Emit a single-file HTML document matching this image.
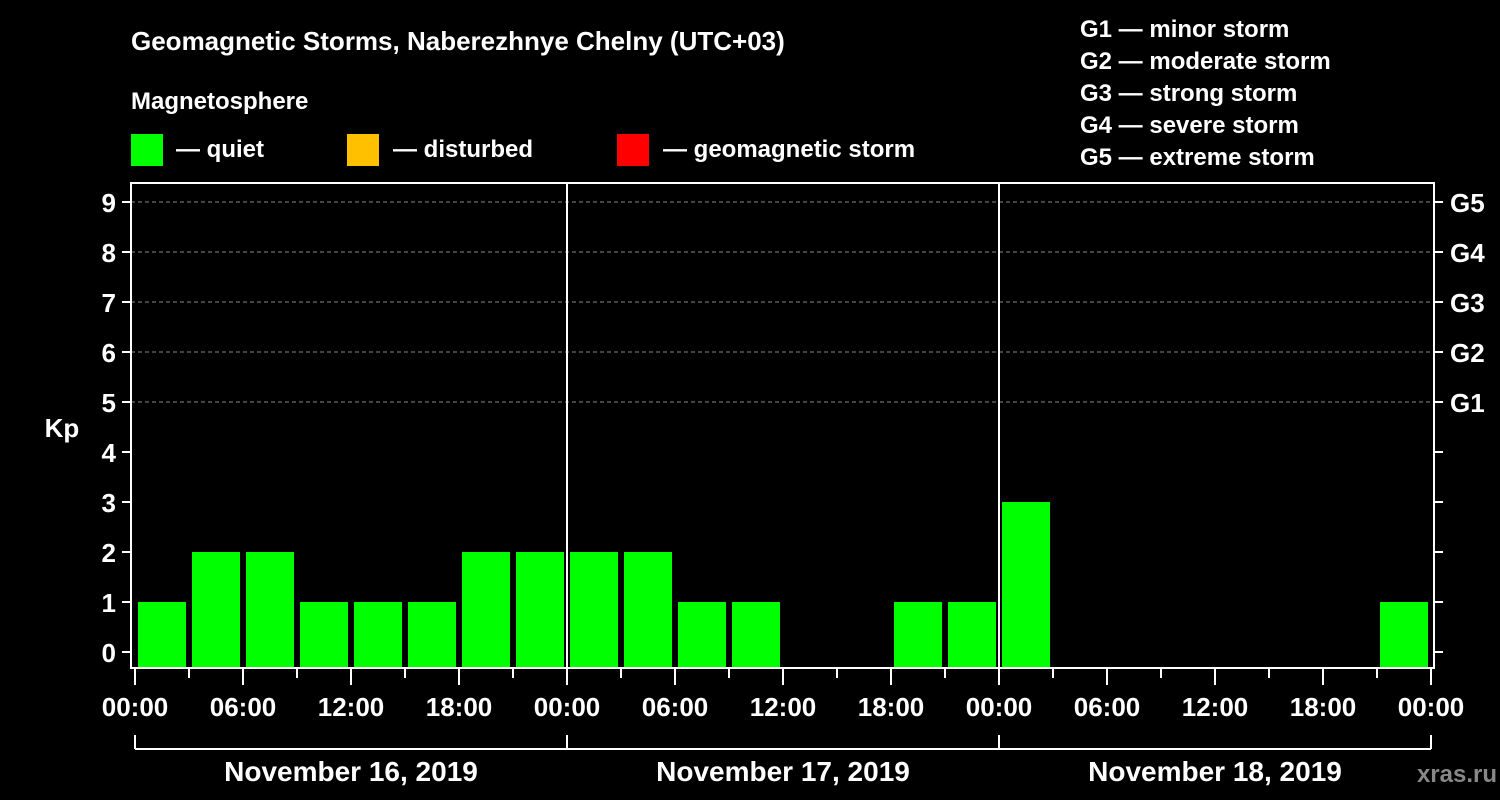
<!DOCTYPE html>
<html><head><meta charset="utf-8"><style>
body{margin:0;background:#000;}
svg{display:block;font-family:"Liberation Sans",Arial,sans-serif;font-weight:bold;}
</style></head><body>
<svg id="chart" width="1500" height="800" viewBox="0 0 1500 800">
<rect width="1500" height="800" fill="#000"/>
<text x="131" y="50" fill="#fff" font-size="26">Geomagnetic Storms, Naberezhnye Chelny (UTC+03)</text>
<text x="131" y="109" fill="#fff" font-size="24">Magnetosphere</text>
<g><rect x="131" y="134" width="32" height="32" fill="#00ff00"/><text x="176" y="157" fill="#fff" font-size="24">— quiet</text></g>
<g><rect x="347" y="134" width="32" height="32" fill="#ffc000"/><text x="393" y="157" fill="#fff" font-size="24">— disturbed</text></g>
<g><rect x="617" y="134" width="32" height="32" fill="#ff0000"/><text x="663" y="157" fill="#fff" font-size="24">— geomagnetic storm</text></g>
<g fill="#fff" font-size="24">
<text x="1080" y="37">G1 — minor storm</text>
<text x="1080" y="69">G2 — moderate storm</text>
<text x="1080" y="101">G3 — strong storm</text>
<text x="1080" y="133">G4 — severe storm</text>
<text x="1080" y="165">G5 — extreme storm</text>
</g>
<text x="62" y="437" fill="#fff" font-size="26" text-anchor="middle">Kp</text>
<text x="1497" y="782" fill="#888" font-size="24" text-anchor="end">xras.ru</text>
<g id="grid"></g><g id="bars"></g><g id="axes"></g>
</svg>
<script>
const days = ["November 16, 2019","November 17, 2019","November 18, 2019"];
const kpValues = [1,2,2,1,1,1,2,2, 2,2,1,1,null,null,1,1, 3,null,null,null,null,null,null,1];
const yTicks = [0,1,2,3,4,5,6,7,8,9];
const gLabels = ["G1","G2","G3","G4","G5"];
const xLabels = ["00:00","06:00","12:00","18:00"];
const NS="http://www.w3.org/2000/svg";
const x0=135, slotW=54, plotL=131, plotR=1434, plotT=183, plotB=668;
const xs=i=>x0+i*slotW;
const ys=v=>652-50*v;
function mk(tag,attrs,parent,txt){const e=document.createElementNS(NS,tag);for(const k in attrs)e.setAttribute(k,attrs[k]);if(txt!==undefined)e.textContent=txt;parent.appendChild(e);return e;}
const grid=document.getElementById('grid'),bars=document.getElementById('bars'),axes=document.getElementById('axes');
for(let g=5;g<=9;g++){const l=mk('line',{x1:plotL,x2:plotR,y1:ys(g),y2:ys(g),stroke:'#888','stroke-dasharray':'4,3','stroke-width':1},grid);

}
kpValues.forEach((v,i)=>{if(v===null)return;
const c=v>=5?'#ff0000':(v>=4?'#ffc000':'#00ff00');
const r=mk('rect',{x:xs(i)+3,y:ys(v),width:48,height:plotB-ys(v),fill:c},bars);

});
// day separators
for(let d=1;d<days.length;d++){const l=mk('line',{x1:xs(d*8),x2:xs(d*8),y1:plotT,y2:plotB,stroke:'#fff','stroke-width':2},axes);

}
const frame=mk('rect',{x:plotL,y:plotT,width:plotR-plotL,height:plotB-plotT,fill:'none',stroke:'#fff','stroke-width':2},axes);


yTicks.forEach(t=>{mk('line',{x1:122,x2:plotL,y1:ys(t),y2:ys(t),stroke:'#fff','stroke-width':2},axes);
mk('line',{x1:plotR,x2:1443,y1:ys(t),y2:ys(t),stroke:'#fff','stroke-width':2},axes);
const tx=mk('text',{x:116,y:ys(t)+10,fill:'#fff','font-size':26,'text-anchor':'end'},axes,String(t));

});
gLabels.forEach((g,i)=>{const tx=mk('text',{x:1450,y:ys(5+i)+10,fill:'#fff','font-size':26},axes,g);

});
for(let i=0;i<=kpValues.length;i++){const major=i%2===0;
mk('line',{x1:xs(i),x2:xs(i),y1:plotB,y2:major?685:678,stroke:'#fff','stroke-width':2},axes);
if(major){const tx=mk('text',{x:xs(i),y:716,fill:'#fff','font-size':26,'text-anchor':'middle'},axes,xLabels[(i/2)%4]);

}}
mk('line',{x1:xs(0),x2:xs(24),y1:749,y2:749,stroke:'#fff','stroke-width':2},axes);
for(let d=0;d<=days.length;d++)mk('line',{x1:xs(d*8),x2:xs(d*8),y1:735,y2:749,stroke:'#fff','stroke-width':2},axes);
days.forEach((d,i)=>{const tx=mk('text',{x:xs(i*8+4),y:781,fill:'#fff','font-size':28,'text-anchor':'middle'},axes,d);

});
</script>
</body></html>
